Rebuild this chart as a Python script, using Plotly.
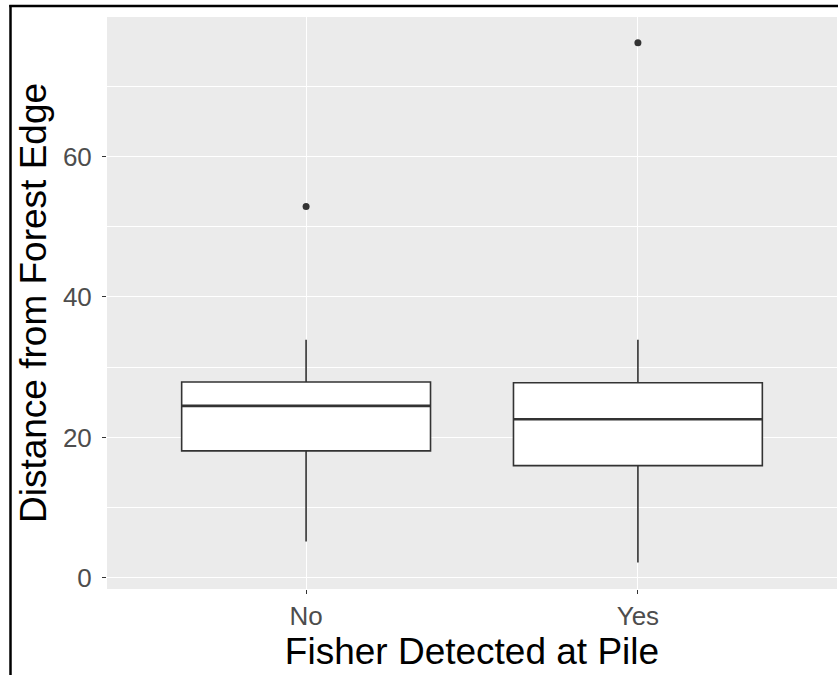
import plotly.graph_objects as go

# Data
categories = ["No", "Yes"]
cat_pos = [1, 2]
q1 = [18.1, 16.0]
median = [24.5, 22.6]
q3 = [27.9, 27.8]
lower_whisker = [5.2, 2.2]
upper_whisker = [33.9, 33.9]
outliers = [[52.9], [76.2]]
y_ticks = [0, 20, 40, 60]
box_width = 0.75

W, H = 838, 675
ml, mr, mt, mb = 107, 1, 17, 86
pw, ph = W - ml - mr, H - mt - mb

fig = go.Figure()
for i, c in enumerate(categories):
    fig.add_trace(go.Box(
        x=[cat_pos[i]], q1=[q1[i]], median=[median[i]], q3=[q3[i]],
        lowerfence=[lower_whisker[i]], upperfence=[upper_whisker[i]],
        width=box_width, whiskerwidth=0, fillcolor="white",
        line=dict(color="#333333", width=1.6),
        boxpoints=False, name=c, showlegend=False, hoverinfo="skip"))
    # thicker median line (ggplot style)
    fig.add_trace(go.Scatter(
        x=[cat_pos[i] - box_width / 2, cat_pos[i] + box_width / 2],
        y=[median[i], median[i]], mode="lines",
        line=dict(color="#333333", width=2.6), showlegend=False, hoverinfo="skip"))
    fig.add_trace(go.Scatter(
        x=[cat_pos[i]] * len(outliers[i]), y=outliers[i], mode="markers",
        marker=dict(color="#333333", size=7), showlegend=False, hoverinfo="skip"))

def px_x(p):
    return (p - ml) / pw

def px_y(p):
    return (H - mb - p) / ph

shapes = [
    dict(type="line", xref="paper", yref="paper", x0=px_x(10.5), x1=px_x(10.5),
         y0=px_y(5), y1=px_y(676), line=dict(color="black", width=2.5)),
    dict(type="line", xref="paper", yref="paper", x0=px_x(9.3), x1=px_x(839),
         y0=px_y(6), y1=px_y(6), line=dict(color="black", width=2.5)),
]

fig.update_layout(
    width=W, height=H,
    margin=dict(l=ml, r=mr, t=mt, b=mb, pad=0),
    paper_bgcolor="white", plot_bgcolor="#EBEBEB",
    font=dict(family="Liberation Sans, Arial, sans-serif"),
    shapes=shapes,
    xaxis=dict(
        range=[0.4, 2.6], tickvals=cat_pos, ticktext=categories,
        showgrid=True, gridcolor="white", gridwidth=1.4, zeroline=False,
        ticks="outside", ticklen=4, tickcolor="#333333", tickwidth=1,
        tickfont=dict(size=26, color="#4D4D4D"),
        title=dict(text="Fisher Detected at Pile", font=dict(size=37, color="black"), standoff=4),
        showline=False),
    yaxis=dict(
        range=[-1.57, 79.86], tickvals=y_ticks,
        showgrid=True, gridcolor="white", gridwidth=1.4, zeroline=False,
        ticks="outside", ticklen=4, tickcolor="#333333", tickwidth=1,
        ticklabelstandoff=5,
        tickfont=dict(size=26, color="#4D4D4D"),
        minor=dict(tickvals=[10, 30, 50, 70], showgrid=True, gridcolor="white", gridwidth=0.7, ticks=""),
        title=dict(text="Distance from Forest Edge", font=dict(size=37, color="black"), standoff=4),
        showline=False),
)

fig.write_html("out.html")
